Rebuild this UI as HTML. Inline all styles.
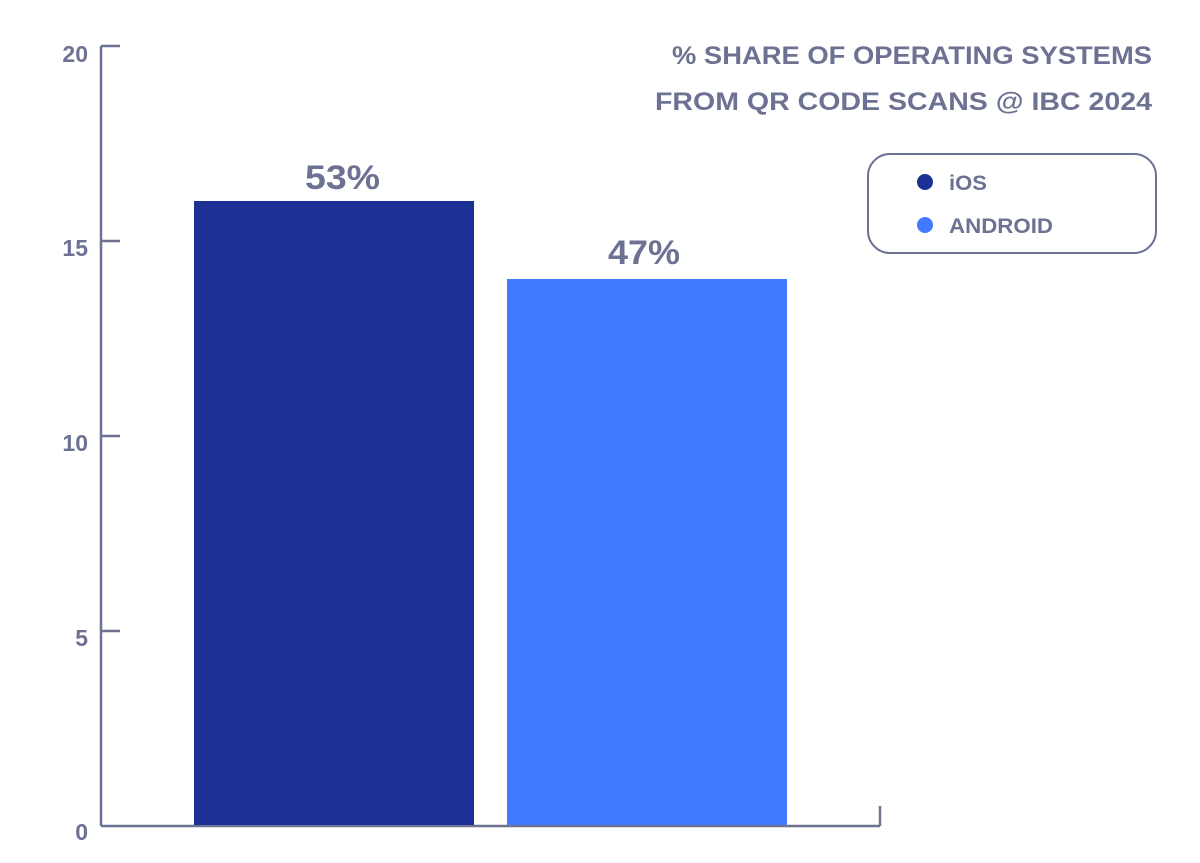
<!DOCTYPE html>
<html><head><meta charset="utf-8"><style>
html,body{margin:0;padding:0;background:#fff;}
svg{display:block;}
text{font-family:"Liberation Sans",sans-serif;font-weight:bold;fill:#6d7293;}
</style></head><body>
<svg width="1200" height="863" viewBox="0 0 1200 863">
<g stroke="#6d7293" stroke-width="2.5" fill="none">
<line x1="101" y1="46" x2="101" y2="826"/>
<line x1="101" y1="826" x2="880" y2="826"/>
<line x1="880" y1="806" x2="880" y2="826"/>
<line x1="101" y1="46" x2="120" y2="46"/>
<line x1="101" y1="241" x2="120" y2="241"/>
<line x1="101" y1="436" x2="120" y2="436"/>
<line x1="101" y1="631" x2="120" y2="631"/>
</g>
<g font-size="23" text-anchor="end">
<text x="88" y="62">20</text>
<text x="88" y="256">15</text>
<text x="88" y="451">10</text>
<text x="88" y="646">5</text>
<text x="88" y="840">0</text>
</g>
<rect x="194" y="201" width="280" height="624" fill="#1b3196"/>
<rect x="507" y="279" width="280" height="546" fill="#407bff"/>
<text x="305" y="189" font-size="34" textLength="75" lengthAdjust="spacingAndGlyphs">53%</text>
<text x="608" y="264" font-size="34" textLength="72" lengthAdjust="spacingAndGlyphs">47%</text>
<g font-size="25">
<text x="672" y="64" textLength="480" lengthAdjust="spacingAndGlyphs">% SHARE OF OPERATING SYSTEMS</text>
<text x="655" y="110" textLength="497" lengthAdjust="spacingAndGlyphs">FROM QR CODE SCANS @ IBC 2024</text>
</g>
<rect x="868" y="154" width="288" height="99" rx="22" fill="none" stroke="#6d7293" stroke-width="2"/>
<circle cx="925" cy="182" r="8" fill="#1b3196"/>
<circle cx="925" cy="225" r="8" fill="#407bff"/>
<text x="949" y="190" font-size="21" font-weight="normal" textLength="38" lengthAdjust="spacingAndGlyphs">iOS</text>
<text x="949" y="233" font-size="21" textLength="104" lengthAdjust="spacingAndGlyphs">ANDROID</text>
</svg>
</body></html>
